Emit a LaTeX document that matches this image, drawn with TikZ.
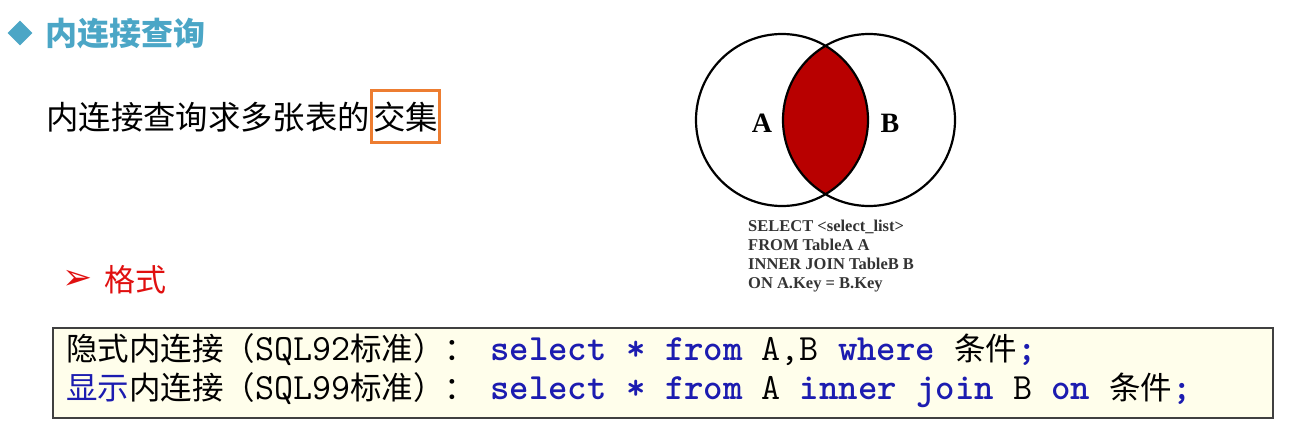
\documentclass[tikz,border=0pt]{standalone}
\usepackage{fontspec}
\usetikzlibrary{positioning, shapes.geometric}
\newfontfamily\cjk{Noto Sans CJK SC}
\newfontfamily\vennfont{Liberation Serif}
\newfontfamily\dingfont{DejaVu Sans}
\definecolor{azulclaro}{HTML}{4BA6C6}
\definecolor{azulcodigo}{HTML}{1C1CB0}
\definecolor{naranjamarca}{HTML}{ED7D31}
\definecolor{rojoformato}{HTML}{E01010}
\definecolor{rojovenn}{HTML}{B80000}
\definecolor{amarillocaja}{HTML}{FFFEEB}
\colorlet{colTitulo}{azulclaro}
\colorlet{colClave}{azulcodigo}
\colorlet{colMarca}{naranjamarca}
\colorlet{colFormato}{rojoformato}
\colorlet{colInter}{rojovenn}
\colorlet{colSQL}{black!80}
\newcommand\kwd[1]{{\color{colClave}\bfseries #1}}
\tikzset{
  textoBase/.style={anchor=base west, inner sep=0pt, text=black,
    font=\cjk\fontsize{32.4}{36}\selectfont},
  textoTitulo/.style={textoBase, text=colTitulo,
    font=\cjk\bfseries\fontsize{32}{36}\selectfont},
  textoFormato/.style={textoBase, text=colFormato,
    font=\cjk\fontsize{31}{36}\selectfont},
  cajaMarca/.style={draw=colMarca, line width=2.5pt, inner xsep=1.5pt,
    minimum height=52pt},
  circuloVenn/.style={circle, draw=black, line width=2.2pt,
    minimum size=172pt, inner sep=0pt},
  letraVenn/.style={font=\vennfont\bfseries\fontsize{28}{30}\selectfont},
  textoSQL/.style={anchor=north west, inner sep=0pt, align=left, text=colSQL,
    font=\vennfont\bfseries\fontsize{16.5}{19}\selectfont},
  cajaCodigo/.style={draw=black!75, line width=1.2pt, fill=amarillocaja,
    minimum width=1220pt, minimum height=90pt, inner sep=0pt},
  lineaPrefijo/.style={anchor=base west, inner sep=0pt,
    font=\cjk\fontsize{31.5}{36}\selectfont},
  lineaCodigo/.style={anchor=base west, inner sep=0pt,
    font=\ttfamily\fontsize{37}{40}\selectfont},
}
\begin{document}
\begin{tikzpicture}[x=1pt, y=-1pt]
  \useasboundingbox (0,0) rectangle (1302,432);
  % encabezado
  \node[diamond, fill=colTitulo, minimum size=25pt, inner sep=0pt] (vineta) at (20,33) {};
  \node[textoTitulo] (titulo) at (45,45) {内连接查询};
  \node[textoBase] (frase) at (46,129) {内连接查询求多张表的};
  \node[textoBase, cajaMarca, anchor=base west] (interseccion) at (frase.base east) {交集};
  % diagrama de Venn
  \coordinate (centroA) at (782,120);
  \coordinate (centroB) at (869,120);
  \begin{scope}
    \clip (centroA) circle (86);
    \fill[colInter] (centroB) circle (86);
  \end{scope}
  \node[circuloVenn] (conjA) at (centroA) {};
  \node[circuloVenn] (conjB) at (centroB) {};
  \node[letraVenn] (etqA) at (762,123) {A};
  \node[letraVenn] (etqB) at (890,123) {B};
  \node[textoSQL] (consulta) at (748,220) {SELECT <select\_list>\\FROM TableA A\\INNER JOIN TableB B\\ON A.Key = B.Key};
  % formato
  \node[text=colFormato, inner sep=0pt, font=\dingfont\fontsize{36}{38}\selectfont] (flechita) at (78,280) {➢};
  \node[textoFormato] (formato) at (104,291) {格式};
  % caja de codigo
  \node[cajaCodigo] (codigo) at (663,373) {};
  \node[lineaPrefijo] (implicito) at (66,360) {隐式内连接（{\ttfamily\fontsize{37}{40}\selectfont SQL92}标准）：};
  \node[lineaCodigo] (sentencia1) at (490,360) {\kwd{select * from} A,B \kwd{where} {\cjk\fontsize{31.5}{36}\selectfont 条件}\kwd{;}};
  \node[lineaPrefijo] (explicito) at (66,399) {{\color{colClave}显示}内连接（{\ttfamily\fontsize{37}{40}\selectfont SQL99}标准）：};
  \node[lineaCodigo] (sentencia2) at (490,399) {\kwd{select * from} A \kwd{inner join} B \kwd{on} {\cjk\fontsize{31.5}{36}\selectfont 条件}\kwd{;}};
\end{tikzpicture}
\end{document}
